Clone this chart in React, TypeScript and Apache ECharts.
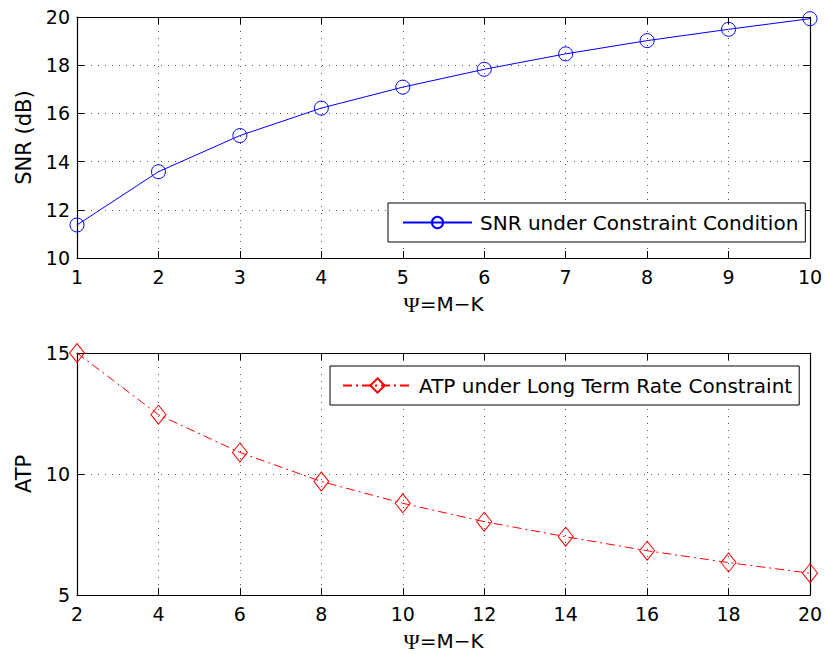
import React, { useEffect, useRef } from "react";
import * as echarts from "echarts";

const snrX = [1, 2, 3, 4, 5, 6, 7, 8, 9, 10];
const snrY = [11.37, 13.58, 15.08, 16.22, 17.09, 17.83, 18.47, 19.02, 19.49, 19.93];
const atpX = [2, 4, 6, 8, 10, 12, 14, 16, 18, 20];
const atpY = [15.0, 12.45, 10.89, 9.69, 8.79, 8.03, 7.41, 6.83, 6.34, 5.9];

const snrName = "SNR under Constraint Condition";
const atpName = "ATP under Long Term Rate Constraint";
const xName = "{psi|Ψ}=M−K";

const FONT = "DejaVu Sans, Liberation Sans, Arial, sans-serif";
const FS = 19;

export default function App() {
  const ref = useRef<HTMLDivElement>(null);
  useEffect(() => {
    if (!ref.current) return;
    const chart = echarts.init(ref.current, undefined, { renderer: "svg" });

    const gridLine = { show: true, lineStyle: { color: "#555", width: 1, type: [1, 6] as any } };
    const axisLine = { show: true, lineStyle: { color: "#000", width: 1.2 } };
    const tick = { show: true, inside: true, length: 7, lineStyle: { color: "#000", width: 1 } };
    const lbl = { color: "#000", fontSize: FS, fontFamily: FONT };
    const xNameStyle = {
      color: "#000",
      fontSize: 20,
      fontFamily: FONT,
      rich: { psi: { fontFamily: "Liberation Serif, Times New Roman, serif", fontSize: 22, color: "#000" } },
    };
    const yNameStyle = { color: "#000", fontSize: 21, fontFamily: FONT };

    const mkX = (grid: number, min: number, max: number, interval: number, main: boolean) => ({
      type: "value",
      gridIndex: grid,
      position: main ? "bottom" : "top",
      min,
      max,
      interval,
      name: main ? xName : undefined,
      nameLocation: "middle",
      nameGap: 35,
      nameTextStyle: xNameStyle,
      axisLine,
      axisTick: tick,
      axisLabel: main ? { ...lbl, margin: 9 } : { show: false },
      splitLine: main ? gridLine : { show: false },
    });
    const mkY = (grid: number, min: number, max: number, interval: number, main: boolean, name?: string) => ({
      type: "value",
      gridIndex: grid,
      position: main ? "left" : "right",
      min,
      max,
      interval,
      name: main ? name : undefined,
      nameLocation: "middle",
      nameGap: 42,
      nameTextStyle: yNameStyle,
      axisLine,
      axisTick: tick,
      axisLabel: main ? { ...lbl, margin: 7 } : { show: false },
      splitLine: main ? gridLine : { show: false },
    });

    chart.setOption({
      animation: false,
      backgroundColor: "#fff",
      textStyle: { fontFamily: FONT },
      grid: [
        { left: 77, top: 17, width: 733, height: 241 },
        { left: 77, top: 353, width: 733, height: 242 },
      ],
      xAxis: [
        mkX(0, 1, 10, 1, true),
        mkX(0, 1, 10, 1, false),
        mkX(1, 2, 20, 2, true),
        mkX(1, 2, 20, 2, false),
      ],
      yAxis: [
        mkY(0, 10, 20, 2, true, "SNR (dB)"),
        mkY(0, 10, 20, 2, false),
        mkY(1, 5, 15, 5, true, "ATP"),
        mkY(1, 5, 15, 5, false),
      ],
      legend: [
        {
          data: [snrName],
          left: 388,
          top: 203,
          orient: "vertical",
          backgroundColor: "#fff",
          borderColor: "#000",
          borderWidth: 1,
          padding: [9, 7, 9, 14],
          itemWidth: 69,
          itemHeight: 14,
          textStyle: { color: "#000", fontSize: 20, fontFamily: FONT, lineHeight: 21, padding: [0, 0, 0, 3] },
        },
        {
          data: [atpName],
          left: 330,
          top: 366,
          orient: "vertical",
          backgroundColor: "#fff",
          borderColor: "#000",
          borderWidth: 1,
          padding: [9, 7, 9, 12],
          itemWidth: 69,
          itemHeight: 18,
          textStyle: { color: "#000", fontSize: 20, fontFamily: FONT, lineHeight: 21, padding: [0, 0, 0, 2] },
        },
      ],
      series: [
        {
          name: snrName,
          type: "line",
          xAxisIndex: 0,
          yAxisIndex: 0,
          data: snrX.map((x, i) => [x, snrY[i]]),
          symbol: "circle",
          symbolSize: 14,
          lineStyle: { color: "#0000ff", width: 1 },
          itemStyle: { color: "rgba(0,0,0,0)", borderColor: "#0000ff", borderWidth: 1 },
          clip: false,
          z: 3,
        },
        {
          name: atpName,
          type: "line",
          xAxisIndex: 2,
          yAxisIndex: 2,
          data: atpX.map((x, i) => [x, atpY[i]]),
          symbol: "diamond",
          symbolSize: [15, 19],
          lineStyle: { color: "#ff0000", width: 1, type: [9, 4, 2, 4] },
          itemStyle: { color: "rgba(0,0,0,0)", borderColor: "#ff0000", borderWidth: 1 },
          clip: false,
          z: 3,
        },
      ],
    });
    return () => chart.dispose();
  }, []);
  return <div ref={ref} style={{ position: "fixed", left: 0, top: 0, width: 826, height: 654 }} />;
}
